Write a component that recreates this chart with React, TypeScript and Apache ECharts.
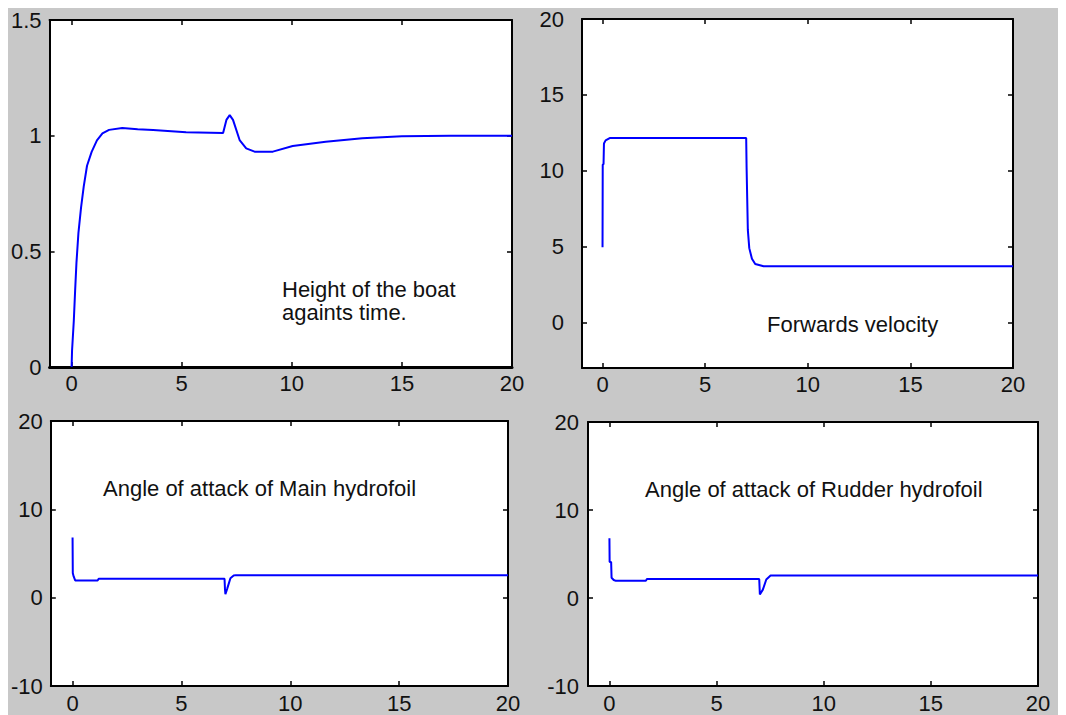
import React, { useEffect, useRef } from "react";
import * as echarts from "echarts";

// ---- tick values ----
const timeTicks = [0, 5, 10, 15, 20];
const heightTicks = [0, 0.5, 1, 1.5];
const velocityTicks = [0, 5, 10, 15, 20];
const angleTicks = [-10, 0, 10, 20];

// ---- Height of the boat against time ----
const heightT = [0, 0.02, 0.1, 0.16, 0.22, 0.31, 0.43, 0.55, 0.7, 0.91, 1.15, 1.4, 1.7, 2.3, 3.0, 3.7, 5.2, 6.88, 7.03, 7.18, 7.33, 7.63, 7.93, 8.31, 9.14, 10.04, 11.54, 13.2, 15, 17.2, 20];
const heightY = [0, 0.07, 0.2, 0.33, 0.45, 0.58, 0.69, 0.78, 0.87, 0.93, 0.98, 1.01, 1.025, 1.033, 1.028, 1.024, 1.015, 1.012, 1.068, 1.089, 1.068, 0.981, 0.945, 0.931, 0.931, 0.955, 0.974, 0.989, 0.997, 1.0, 1.0];

// ---- Forwards velocity ----
const velocityT = [0, 0.01, 0.05, 0.07, 0.15, 0.35, 7.0, 7.02, 7.08, 7.15, 7.28, 7.44, 7.85, 20];
const velocityY = [4.95, 10.4, 10.45, 11.8, 12.0, 12.15, 12.15, 10.2, 6.1, 4.9, 4.2, 3.85, 3.7, 3.7];

// ---- Angle of attack of Main hydrofoil ----
const mainT = [0, 0.01, 0.05, 0.12, 1.15, 1.2, 6.98, 7.0, 7.02, 7.1, 7.25, 7.4, 7.5, 20];
const mainY = [6.8, 2.8, 2.4, 1.95, 1.95, 2.15, 2.15, 1.0, 0.4, 1.0, 2.2, 2.5, 2.55, 2.55];

// ---- Angle of attack of Rudder hydrofoil ----
const rudderT = [0, 0.01, 0.08, 0.1, 0.2, 0.3, 1.7, 1.75, 6.99, 7.02, 7.16, 7.32, 7.52, 20];
const rudderY = [6.8, 4.1, 4.1, 2.3, 2.05, 1.95, 1.95, 2.15, 2.15, 0.4, 0.95, 2.1, 2.55, 2.55];

// ---- annotation texts ----
const heightLabel = ["Height of the boat", "againts time."];
const velocityLabel = "Forwards velocity";
const mainLabel = "Angle of attack of Main hydrofoil";
const rudderLabel = "Angle of attack of Rudder hydrofoil";

const FONT = "'Liberation Sans', Arial, sans-serif";

function zip(t: number[], y: number[]) {
  return t.map((v, i) => [v, y[i]]);
}

const panels = [
  { grid: { left: 37, top: 12, width: 467, height: 347 }, yMin: 0, yMax: 1.5, yTicks: heightTicks, t: heightT, y: heightY, yMargin: 8, xMargin: 5, bottomWidth: 3 },
  { grid: { left: 574, top: 11, width: 431, height: 349 }, yMin: -3, yMax: 20, yTicks: velocityTicks, t: velocityT, y: velocityY, yMargin: 18, xMargin: 5, bottomWidth: 2 },
  { grid: { left: 36, top: 413, width: 464, height: 265 }, yMin: -10, yMax: 20, yTicks: angleTicks, t: mainT, y: mainY, yMargin: 8, xMargin: 6, bottomWidth: 2 },
  { grid: { left: 580, top: 414, width: 450, height: 264 }, yMin: -10, yMax: 20, yTicks: angleTicks, t: rudderT, y: rudderY, yMargin: 9, xMargin: 6, bottomWidth: 2 },
];

export default function App() {
  const ref = useRef<HTMLDivElement>(null);

  useEffect(() => {
    if (!ref.current) return;
    const chart = echarts.init(ref.current, null, { renderer: "svg" });

    const labelStyle = { color: "#111", fontSize: 22, fontFamily: FONT };
    const grids: any[] = [];
    const xAxes: any[] = [];
    const yAxes: any[] = [];
    const series: any[] = [];

    panels.forEach((p, g) => {
      grids.push({ ...p.grid, show: true, backgroundColor: "#ffffff", borderWidth: 0, containLabel: false });
      const xBase = {
        type: "value", gridIndex: g, min: -1, max: 20, splitLine: { show: false },
      };
      xAxes.push({
        ...xBase, position: "bottom",
        axisLine: { show: true, onZero: false, lineStyle: { color: "#000", width: p.bottomWidth } },
        axisTick: { show: true, inside: true, length: 5, customValues: timeTicks, lineStyle: { color: "#000", width: 1.5 } },
        axisLabel: { show: true, margin: p.xMargin, customValues: timeTicks, ...labelStyle },
      });
      xAxes.push({
        ...xBase, position: "top",
        axisLine: { show: true, onZero: false, lineStyle: { color: "#000", width: 2 } },
        axisTick: { show: true, inside: true, length: 5, customValues: timeTicks, lineStyle: { color: "#000", width: 1.5 } },
        axisLabel: { show: false },
      });
      const yBase = {
        type: "value", gridIndex: g, min: p.yMin, max: p.yMax, splitLine: { show: false },
      };
      yAxes.push({
        ...yBase, position: "left",
        axisLine: { show: true, onZero: false, lineStyle: { color: "#000", width: 2 } },
        axisTick: { show: true, inside: true, length: 5, customValues: p.yTicks, lineStyle: { color: "#000", width: 1.5 } },
        axisLabel: { show: true, margin: p.yMargin, customValues: p.yTicks, ...labelStyle },
      });
      yAxes.push({
        ...yBase, position: "right",
        axisLine: { show: true, onZero: false, lineStyle: { color: "#000", width: 2 } },
        axisTick: { show: true, inside: true, length: 5, customValues: p.yTicks, lineStyle: { color: "#000", width: 1.5 } },
        axisLabel: { show: false },
      });
      series.push({
        type: "line",
        xAxisIndex: 2 * g,
        yAxisIndex: 2 * g,
        data: zip(p.t, p.y),
        showSymbol: false,
        lineStyle: { color: "#0000ff", width: 2 },
        itemStyle: { color: "#0000ff" },
        clip: true,
      });
    });

    const textStyle = (text: string) => ({
      text, fill: "#111", fontSize: 22, fontFamily: FONT, verticalAlign: "middle", align: "left",
    });

    chart.setOption({
      animation: false,
      backgroundColor: "#c8c8c8",
      grid: grids,
      xAxis: xAxes,
      yAxis: yAxes,
      series,
      graphic: [
        {
          type: "text", x: 274, y: 269.5, z: 10,
          style: {
            text: heightLabel.join("\n"), fill: "#111", fontSize: 22, fontFamily: FONT,
            lineHeight: 23, verticalAlign: "top", align: "left",
          },
        },
        { type: "text", x: 759, y: 316, z: 10, style: textStyle(velocityLabel) },
        { type: "text", x: 95, y: 480, z: 10, style: textStyle(mainLabel) },
        { type: "text", x: 637, y: 481.5, z: 10, style: textStyle(rudderLabel) },
      ],
    });

    return () => chart.dispose();
  }, []);

  return <div ref={ref} style={{ width: 1058, height: 707 }} />;
}
